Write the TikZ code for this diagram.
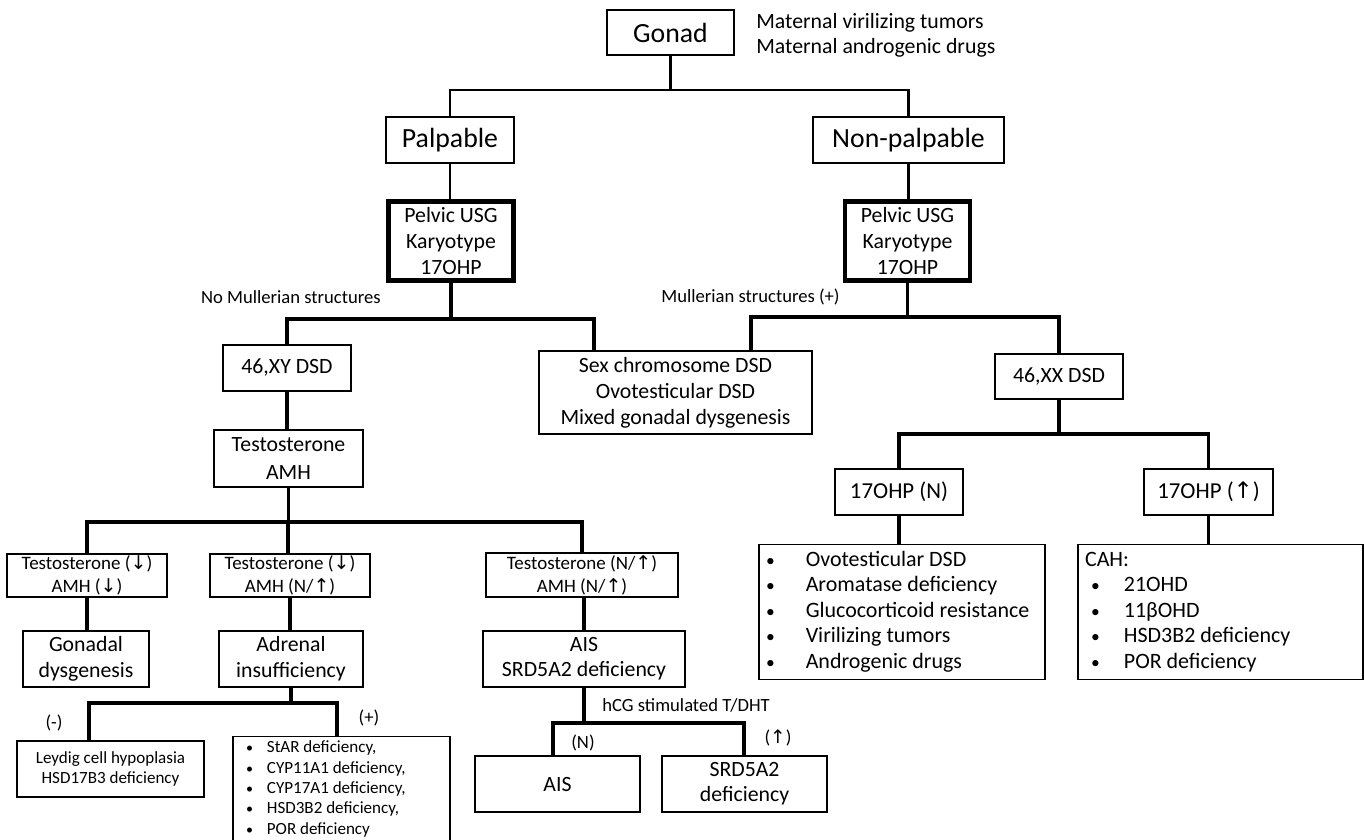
\documentclass[tikz,border=0pt]{standalone}
\usepackage{fontspec}
\setmainfont{Carlito}
\newfontfamily\arrowfont{DejaVu Sans}
\newcommand{\uarr}{{\arrowfont\char"2191}}
\newcommand{\darr}{{\arrowfont\char"2193}}
\newcommand{\fs}[2]{\fontsize{#1}{#2}\selectfont}
\newcommand{\natsp}{\spaceskip=0pt\xspaceskip=0pt\relax}
\newcommand{\bul}[1]{{\fontsize{#1}{#1}\selectfont\textbullet}}

\begin{document}
\begin{tikzpicture}[x=0.02cm, y=-0.02cm,
    box/.style={draw, line width=0.7pt, align=center, inner sep=0pt},
    testbox/.style={box, line width=2.6pt},
    listbox/.style={box, align=left, font=\fs{12.5}{14.5}, minimum height=2.7cm},
    link/.style={line width=2pt},
    toplink/.style={line width=1.5pt},
    fbig/.style={font=\fs{15.8}{19}},
    fmid/.style={font=\fs{12.4}{15}},
    fsml/.style={font=\fs{10.8}{13}},
    ftny/.style={font=\fs{9.7}{11.3}},
    lbl/.style={font=\fs{10.6}{13}, inner sep=0pt}]
    \path[use as bounding box, fill=white] (0,0) rectangle (1364,839);

    % 1. Gonad and the two branches
    \node[box, fbig, minimum width=2.54cm, minimum height=0.9cm] (gonad) at (670.5,32.5) {Gonad};
    \node[anchor=west, align=left, font=\fs{12.4}{14.2}, inner sep=0pt] (maternal) at (756,35.5)
        {\natsp Maternal virilizing tumors\\Maternal androgenic drugs};
    \node[box, fbig, minimum width=2.56cm, minimum height=0.92cm] (palp) at (450,140) {Palpable};
    \node[box, fbig, minimum width=3.82cm, minimum height=0.92cm] (nonpalp) at (908.5,140) {Non-palpable};
    \coordinate (j1) at (670.5,90);
    \draw[toplink] (gonad.south) -- (j1);
    \draw[toplink] (palp.north) |- (j1) -| (nonpalp.north);

    % 2. Pelvic USG / Karyotype / 17OHP
    \node[testbox, fmid, minimum width=2.5cm, minimum height=1.58cm] (usgL) at (451,241) {Pelvic USG\\Karyotype\\17OHP};
    \node[testbox, fmid, minimum width=2.5cm, minimum height=1.58cm] (usgR) at (907.5,241) {Pelvic USG\\Karyotype\\17OHP};
    \draw[toplink] (palp.south) -- (palp.south |- usgL.north);
    \draw[toplink] (nonpalp.south) -- (nonpalp.south |- usgR.north);

    % 3. Mullerian structures
    \node[lbl, anchor=east] (nomull) at (381,297) {No Mullerian structures};
    \node[lbl, anchor=west] (mull) at (661,297) {Mullerian structures (+)};
    \node[box, fmid, minimum width=2.56cm, minimum height=0.92cm] (xy) at (287,368) {46,XY DSD};
    \node[box, font=\fs{12.4}{14.7}, minimum width=5.46cm, minimum height=1.66cm] (sexchr) at (675.5,392.5)
        {Sex chromosome DSD\\Ovotesticular DSD\\Mixed gonadal dysgenesis};
    \node[box, fmid, minimum width=2.56cm, minimum height=0.9cm] (xx) at (1059,376.5) {46,XX DSD};
    \coordinate (jL) at (451,319);
    \coordinate (jR) at (907.5,317);
    \draw[link] (usgL.south) -- (jL);
    \draw[link] (xy.north) |- (jL) -| (594,0 |- sexchr.north);
    \draw[link] (usgR.south) -- (jR);
    \draw[link] (751,0 |- sexchr.north) |- (jR) -| (xx.north);

    % 4. 46,XX DSD
    \node[box, font=\fs{13}{15}, minimum width=2.56cm, minimum height=0.92cm] (ohpn) at (899,492) {17OHP (N)};
    \node[box, font=\fs{13}{15}, minimum width=2.58cm, minimum height=0.92cm] (ohpu) at (1208.5,492) {17OHP (\uarr)};
    \coordinate (jX) at (1059,434);
    \draw[link] (xx.south) -- (jX);
    \draw[link] (ohpn.north) |- (jX) -| (ohpu.north);
    \node[listbox, text width=5.72cm] (listn) at (902,612)
        {\natsp\begin{tabular}{@{\hspace{4pt}}p{22.6pt}@{}l@{}}
         \bul{10} & Ovotesticular DSD\\
         \bul{10} & Aromatase deficiency\\
         \bul{10} & Glucocorticoid resistance\\
         \bul{10} & Virilizing tumors\\
         \bul{10} & Androgenic drugs
         \end{tabular}};
    \node[listbox, text width=5.7cm] (cah) at (1220.5,612)
        {\natsp\begin{tabular}{@{\hspace{7.4pt}}p{18.7pt}@{}l@{}}
         \multicolumn{2}{@{\hspace{4pt}}l@{}}{CAH:}\\
         \bul{10} & 21OHD\\
         \bul{10} & 11βOHD\\
         \bul{10} & HSD3B2 deficiency\\
         \bul{10} & POR deficiency
         \end{tabular}};
    \draw[link] (ohpn.south) -- (ohpn.south |- listn.north);
    \draw[link] (ohpu.south) -- (ohpu.south |- cah.north);

    % 5. 46,XY DSD
    \node[box, font=\fs{12.4}{15.9}, minimum width=2.98cm, minimum height=1.14cm] (tamh) at (288.5,458.5) {Testosterone\\AMH};
    \draw[link] (xy.south) -- (xy.south |- tamh.north);
    \node[box, fsml, minimum width=3.2cm, minimum height=0.86cm] (tlow) at (87,575.5) {Testosterone (\darr)\\AMH (\darr)};
    \node[box, fsml, minimum width=3.2cm, minimum height=0.86cm] (tmid) at (290,575.5) {Testosterone (\darr)\\AMH (N/\uarr)};
    \node[box, fsml, minimum width=3.84cm, minimum height=0.88cm] (thigh) at (582,575) {Testosterone (N/\uarr)\\AMH (N/\uarr)};
    \coordinate (jT) at (288,522);
    \draw[link] (tamh.south) -- (tamh.south |- jT);
    \draw[link] (tlow.north) |- (jT) -| (thigh.north);
    \draw[link] (jT) -- (jT |- tmid.north);

    \node[box, font=\fs{12.4}{14.7}, minimum width=2.52cm, minimum height=1.12cm] (gdys) at (86,659) {Gonadal\\dysgenesis};
    \node[box, font=\fs{12.4}{14.7}, minimum width=2.88cm, minimum height=1.12cm] (adrenal) at (291,659) {Adrenal\\insufficiency};
    \node[box, font=\fs{12.4}{14.2}, minimum width=4.04cm, minimum height=1.12cm] (aissrd) at (584,659) {AIS\\SRD5A2 deficiency};
    \draw[link] (tlow.south) -- (tlow.south |- gdys.north);
    \draw[link] (tmid.south) -- (tmid.south |- adrenal.north);
    \draw[link] (584,0 |- thigh.south) -- (aissrd.north);

    % 6. Adrenal insufficiency
    \coordinate (jA) at (291,703);
    \node[lbl] (minus) at (54,723) {(-)};
    \node[lbl] (plus) at (369,718) {(+)};
    \node[box, ftny, minimum width=3.74cm, minimum height=1.12cm] (leydig) at (110.5,769)
        {Leydig cell hypoplasia\\HSD17B3 deficiency};
    \node[box, anchor=north, align=left, font=\fs{9.7}{11.6}, text width=4.34cm, inner ysep=1pt] (steroid) at (341.5,736)
        {\natsp\begin{tabular}{@{\hspace{7.4pt}}p{11.9pt}@{}l@{}}
         \bul{8} & StAR deficiency,\\
         \bul{8} & CYP11A1 deficiency,\\
         \bul{8} & CYP17A1 deficiency,\\
         \bul{8} & HSD3B2 deficiency,\\
         \bul{8} & POR deficiency\\[14pt]
         \end{tabular}};
    \draw[link] (adrenal.south) -- (jA);
    \draw[link] (89,0 |- leydig.north) |- (jA) -| (337,0 |- steroid.north);

    % 7. hCG stimulation
    \coordinate (jS) at (584,723);
    \node[lbl, anchor=west] (hcg) at (602,705) {hCG stimulated T/DHT};
    \node[lbl] (normal) at (583,743) {(N)};
    \node[lbl] (raised) at (778,738) {(\uarr)};
    \node[box, fmid, minimum width=3.3cm, minimum height=1.12cm] (ais) at (557.5,784) {AIS};
    \node[box, font=\fs{12.4}{14.2}, minimum width=3.3cm, minimum height=1.12cm] (srd) at (744.5,784) {SRD5A2\\deficiency};
    \draw[link] (aissrd.south) -- (jS);
    \draw[link] (553,0 |- ais.north) |- (jS) -| (744,0 |- srd.north);
\end{tikzpicture}
\end{document}
